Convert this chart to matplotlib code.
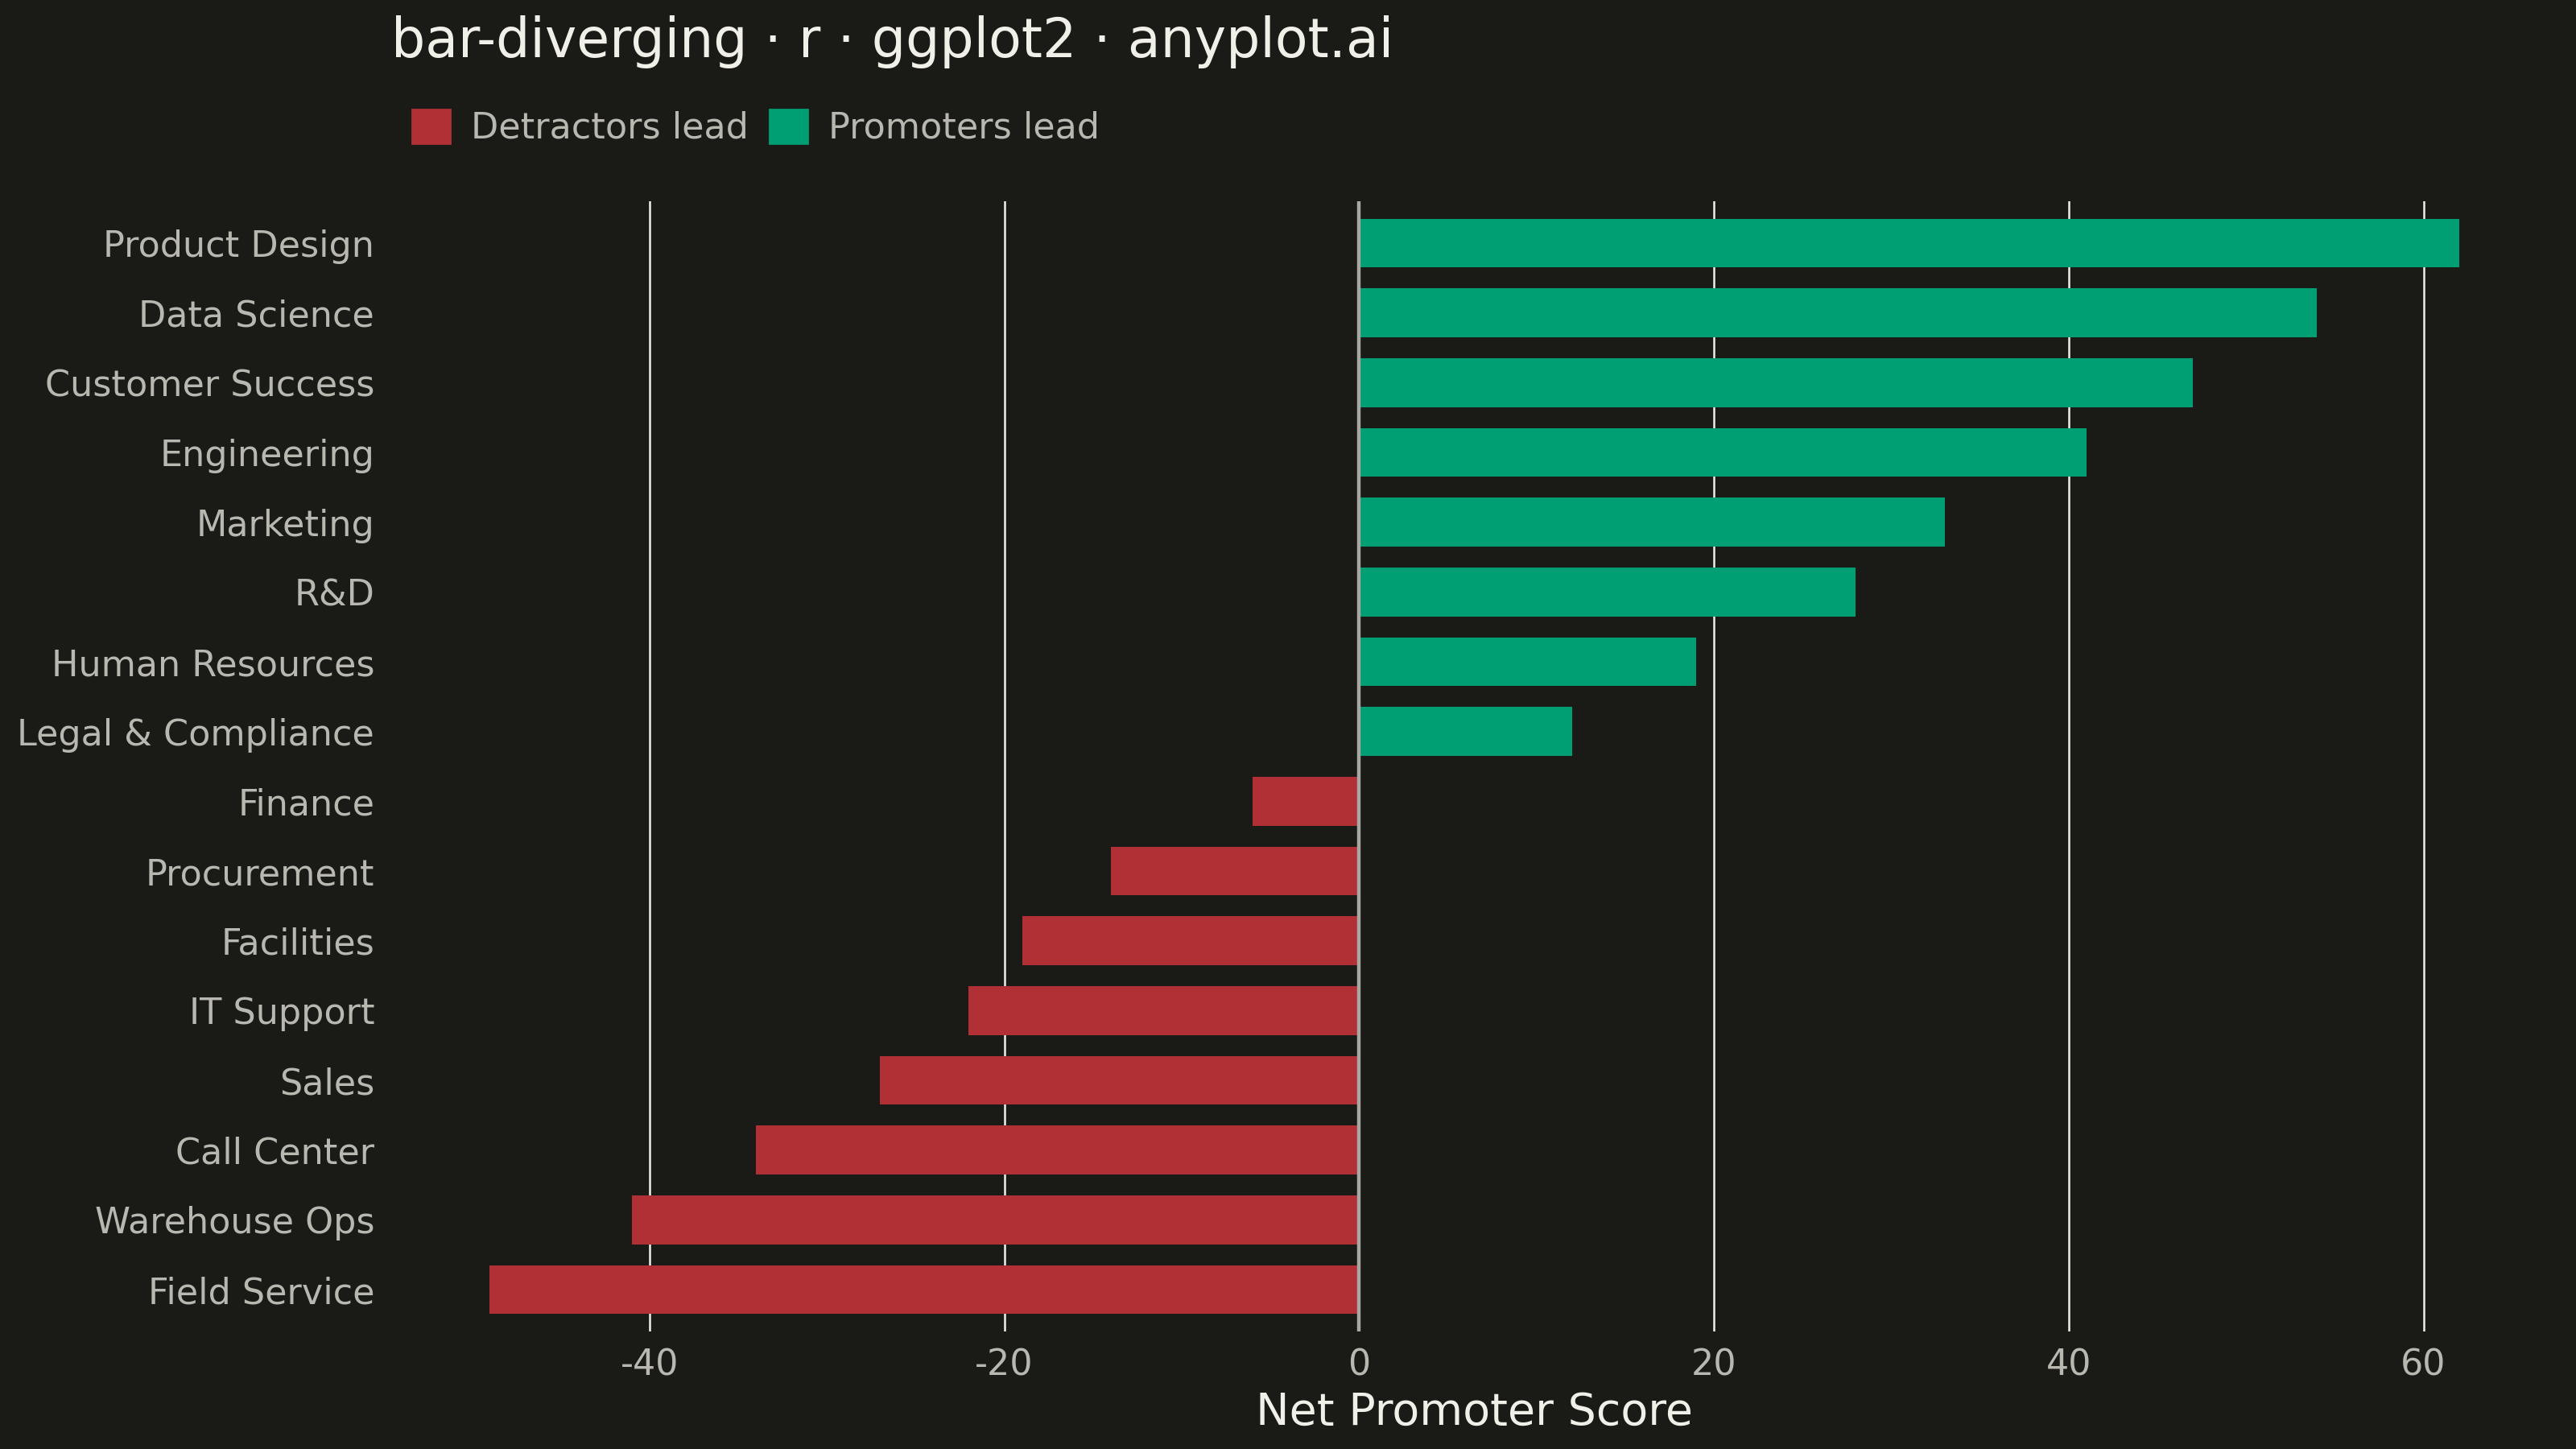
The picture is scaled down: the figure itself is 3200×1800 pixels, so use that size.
import matplotlib
matplotlib.use("Agg")
import matplotlib.pyplot as plt
from matplotlib.patches import Patch

# data
departments = ["Product Design", "Data Science", "Customer Success", "Engineering",
               "Marketing", "R&D", "Human Resources", "Legal & Compliance",
               "Finance", "Procurement", "Facilities", "IT Support", "Sales",
               "Call Center", "Warehouse Ops", "Field Service"]
nps = [62, 54, 47, 41, 33, 28, 19, 12, -6, -14, -19, -22, -27, -34, -41, -49]
x_ticks = [-40, -20, 0, 20, 40, 60]

BG = "#1A1A17"
INK = "#F0EFE8"
INK_SOFT = "#B8B7B0"
RED = "#B03035"
GREEN = "#009E73"

plt.rcParams['font.family'] = ['DejaVu Sans']

fig = plt.figure(figsize=(16, 9), dpi=200, facecolor=BG)
ax = fig.add_axes([0.1519, 0.0811, 0.8409, 0.78], facecolor=BG)

# top department at the top
ypos = list(range(len(departments)))[::-1]
colors = [GREEN if v > 0 else RED for v in nps]
ax.barh(ypos, nps, height=0.7, color=colors, zorder=2)

# grid and zero line
for t in x_ticks:
    if t != 0:
        ax.axvline(t, color=INK, lw=0.9, zorder=1)
ax.axvline(0, color="#A8A7A1", lw=1.6, zorder=3)

span = max(nps) - min(nps)
ax.set_xlim(min(nps) - 0.05 * span, max(nps) + 0.05 * span)
ax.set_ylim(-0.6, len(departments) - 0.4)

ax.set_xticks(x_ticks)
ax.set_xticklabels([str(t) for t in x_ticks])
ax.set_yticks(ypos)
ax.set_yticklabels(departments)
ax.tick_params(axis='both', length=0, colors=INK_SOFT, labelsize=16)
ax.tick_params(axis='y', pad=7.5)
ax.tick_params(axis='x', pad=7.5)
for s in ax.spines.values():
    s.set_visible(False)

ax.set_xlabel("Net Promoter Score", color=INK, fontsize=20, labelpad=3.5)

fig.text(0.152, 1 - 71 / 1800, "bar-diverging · r · ggplot2 · anyplot.ai",
         color=INK, fontsize=24, ha='left', va='baseline')

handles = [Patch(color=RED), Patch(color=GREEN)]
leg = fig.legend(handles, ["Detractors lead", "Promoters lead"], ncol=2,
                 loc='center left', bbox_to_anchor=(0.16, 0.912),
                 frameon=False, fontsize=16, labelcolor=INK_SOFT,
                 handlelength=1.06, handleheight=1.08, handletextpad=0.59,
                 columnspacing=0.58, borderpad=0, borderaxespad=0)

fig.savefig("out.png", dpi=200, facecolor=BG)
